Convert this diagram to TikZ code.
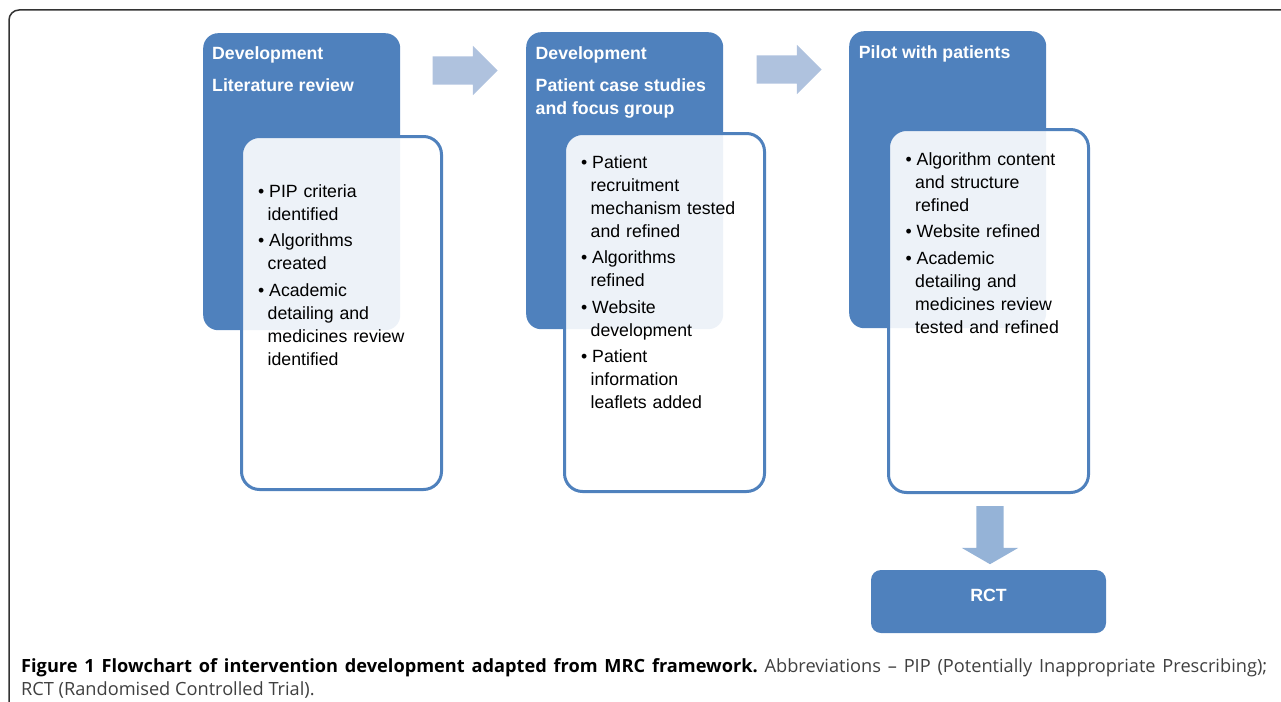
\documentclass[tikz,border=0pt]{standalone}
\usepackage{fontspec}
\setmainfont{Liberation Sans}
\newfontfamily\capfont{Open Sans}
\usetikzlibrary{shapes.arrows,calc}
\definecolor{boxblue}{HTML}{4F81BD}
\definecolor{arrowblue}{HTML}{AFC2DE}
\definecolor{downblue}{HTML}{95B3D7}
\definecolor{framegray}{HTML}{333333}
\definecolor{capgray}{HTML}{404040}

% one bullet point with hanging lines
\newcommand\bitem[1]{\hangindent=9.5pt\hangafter=1\leavevmode\makebox[11pt][l]{\textbullet}#1\par}

\begin{document}
\begin{tikzpicture}[x=1pt, y=-1pt,
    phasebox/.style={fill=boxblue, rounded corners=15pt, minimum width=197pt, minimum height=297pt, anchor=north west, inner sep=0},
    itembox/.style={draw=boxblue, line width=3pt, fill=white, fill opacity=0.9, rounded corners=18pt, minimum width=200pt, minimum height=353pt, anchor=north west, inner sep=0},
    headtext/.style={text=white, font=\fontsize{17.7}{23}\selectfont\bfseries, align=left, anchor=north west, inner sep=0},
    itemtext/.style={text=black, font=\fontsize{17.7}{23}\selectfont, text width=190pt, anchor=north west, inner sep=0, execute at begin node={\setlength\parskip{3.5pt}\setlength\parindent{0pt}}},
    blockarrow/.style={single arrow, fill=arrowblue, minimum height=65pt, minimum width=49pt, single arrow head extend=10.5pt, inner xsep=0, inner ysep=14pt, anchor=tail}]
  \useasboundingbox (0,0) rectangle (1281,701);
  \draw[framegray, line width=1.5pt, rounded corners=10pt] (9,705) -- (9,10) -- (1285,10);

  % literature review
  \node[phasebox] (litphase) at (203,33) {};
  \node[itembox] (lititems) at (240,135) {};
  \node[headtext] (lithead) at (212,46.5) {Development\\[8.5pt]Literature review};
  \node[itemtext] (littext) at (258,184) {%
    \bitem{PIP criteria\newline identified}
    \bitem{Algorithms\newline created}
    \bitem{Academic\newline detailing and\newline medicines review\newline identified}};

  % case studies
  \node[phasebox] (casephase) at (526,32) {};
  \node[itembox, minimum height=358pt] (caseitems) at (563,132) {};
  \node[headtext] (casehead) at (535.5,46.5) {Development\\[8.5pt]Patient case studies\\and focus group};
  \node[itemtext] (casetext) at (581,155) {%
    \bitem{Patient\newline recruitment\newline mechanism tested\newline and refined}
    \bitem{Algorithms\newline refined}
    \bitem{Website\newline development}
    \bitem{Patient\newline information\newline leaflets added}};

  % pilot
  \node[phasebox] (pilotphase) at (849,31) {};
  \node[itembox, minimum height=363pt] (pilotitems) at (887,128) {};
  \node[headtext] (pilothead) at (858.7,45) {Pilot with patients};
  \node[itemtext] (pilottext) at (905.5,152) {%
    \bitem{Algorithm content\newline and structure\newline refined}
    \bitem{Website refined}
    \bitem{Academic\newline detailing and\newline medicines review\newline tested and refined}};

  % trial
  \node[fill=boxblue, rounded corners=10pt, minimum width=235pt, minimum height=63pt, inner sep=0] (rct) at (988.5,601.5) {};
  \node[text=white, font=\fontsize{17.7}{23}\selectfont\bfseries, inner sep=0] (rcttext) at ([yshift=6pt]rct.center) {RCT};

  % block arrows
  \node[blockarrow] (arr1) at ($(litphase.north east)+(32,37.5)$) {};
  \node[blockarrow] (arr2) at ($(casephase.north east)+(33,37.5)$) {};
  \node[single arrow, fill=downblue, minimum height=58pt, minimum width=56pt, single arrow head extend=14.5pt, single arrow tip angle=120, rotate=-90, inner xsep=0, inner ysep=13.5pt, anchor=tail] (arr3) at ($(pilotitems.south)+(1.5,12)$) {};

  % caption
  \node[anchor=north west, inner sep=0, text width=1246pt, align=justify, font=\capfont\fontsize{18.2}{23}\selectfont\frenchspacing, text=capgray] (caption) at (21,658) {%
    \textcolor{black}{\bfseries Figure 1 Flowchart of intervention development adapted from MRC framework.} Abbreviations – PIP (Potentially Inappropriate Prescribing);\linebreak
    RCT (Randomised Controlled Trial).};
\end{tikzpicture}
\end{document}
